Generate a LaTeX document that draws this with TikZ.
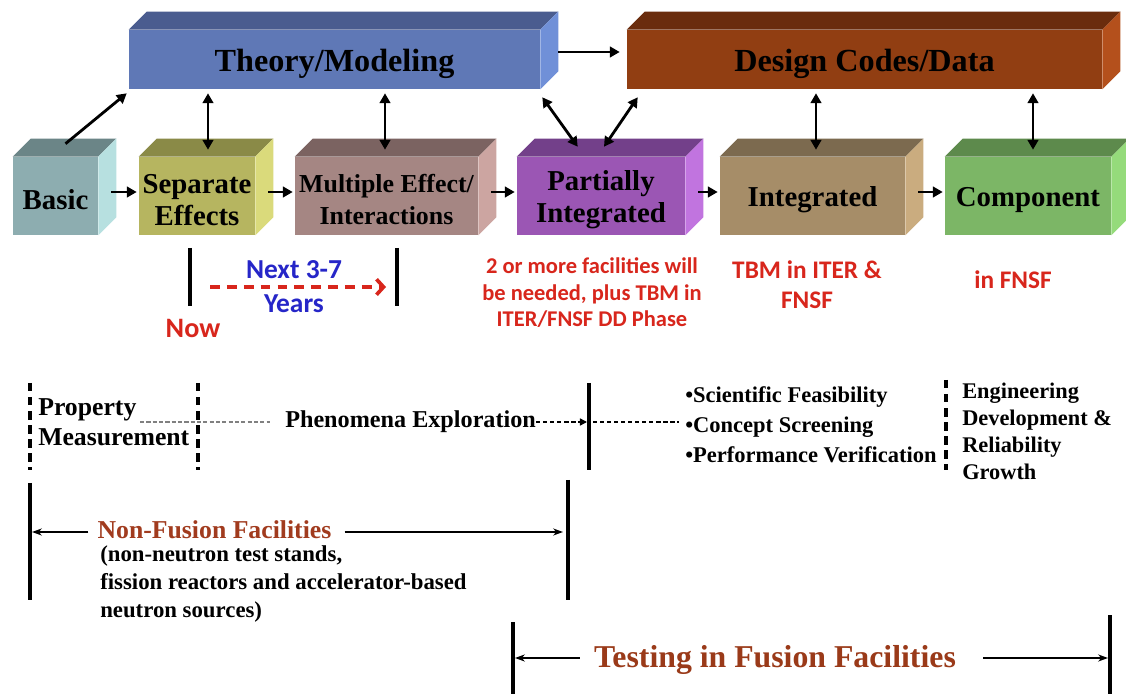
\documentclass[tikz,border=0pt]{standalone}
\usepackage{fontspec}
\setmainfont{Liberation Serif}
\newfontfamily\calibri{Carlito}
\usetikzlibrary{arrows.meta}

\definecolor{theoryF}{HTML}{5F78B6}
\definecolor{theoryT}{HTML}{4A5C8F}
\definecolor{theoryS}{HTML}{7090D8}
\definecolor{designF}{HTML}{913E12}
\definecolor{designT}{HTML}{6A2C0D}
\definecolor{designS}{HTML}{B4501C}
\definecolor{basicF}{HTML}{8DADB0}
\definecolor{basicT}{HTML}{6B8587}
\definecolor{basicS}{HTML}{B7E0E0}
\definecolor{sepF}{HTML}{B6B560}
\definecolor{sepT}{HTML}{8A8A47}
\definecolor{sepS}{HTML}{DADA7B}
\definecolor{multiF}{HTML}{A58683}
\definecolor{multiT}{HTML}{7B6361}
\definecolor{multiS}{HTML}{CCA5A1}
\definecolor{partF}{HTML}{9B56B4}
\definecolor{partT}{HTML}{73408A}
\definecolor{partS}{HTML}{C174DF}
\definecolor{integF}{HTML}{A68D68}
\definecolor{integT}{HTML}{7C6A4F}
\definecolor{integS}{HTML}{CAAC7F}
\definecolor{compF}{HTML}{7CB666}
\definecolor{compT}{HTML}{5D8A4C}
\definecolor{compS}{HTML}{95DB7B}
\definecolor{noteRed}{HTML}{D8261C}
\definecolor{yearBlue}{HTML}{2626C8}
\definecolor{nfBrown}{HTML}{A13B1E}
\definecolor{tfBrown}{HTML}{9A3A19}

\newcommand{\fsz}[2]{\fontsize{#1pt}{#2pt}\selectfont\bfseries}
\newcommand{\lift}[1]{\rule{0pt}{#1em}}
\newcommand{\slab}[3]{%
	\fill [fill=#2] (#1.north west) -- ([shift={(\dep,-\dep)}]#1.north west) -- ([shift={(\dep,-\dep)}]#1.north east) -- (#1.north east) -- cycle;
	\fill [fill=#3] (#1.north east) -- ([shift={(\dep,-\dep)}]#1.north east) -- ([shift={(\dep,-\dep)}]#1.south east) -- (#1.south east) -- cycle;%
}

\begin{document}
\begin{tikzpicture}[x=0.025cm, y=-0.025cm,
		box/.style n args={3}{fill=#1, minimum width=#2*0.025cm, minimum height=#3*0.025cm, inner sep=0pt, align=center},
		big/.style={font=\fsz{22.9}{25}},
		row/.style={font=\fsz{20.5}{22.7}},
		link/.style={line width=2pt, -{Triangle[length=7pt, width=7.5pt]}},
		both/.style={line width=2pt, {Triangle[length=7pt, width=7.5pt]}-{Triangle[length=7pt, width=7.5pt]}},
		bar/.style={line width=2.2pt},
		dbar/.style={line width=3pt, dash pattern=on 6pt off 4pt},
		note/.style={text=noteRed, align=center},
		future/.style={noteRed, line width=2.6pt, dash pattern=on 7pt off 5pt, -{Straight Barb[length=5pt, width=11pt]}},
		span/.style={line width=1.2pt, -{Stealth[length=7pt, width=5pt]}},
		plain/.style={inner sep=0pt, align=left}]

		\useasboundingbox (0,0) rectangle (1126,694);
		\fill [white] (0,0) rectangle (1126,694);
		\def\dep{18}

		\node [box={theoryF}{411}{59}, big] (theory) at (334.5,59.5) {\lift{0.99}Theory/Modeling};
		\node [box={designF}{475}{59}, big] (design) at (864.5,59.5) {\lift{0.99}Design Codes/Data};

		\node [box={basicF}{85}{78}, row] (basic) at (55.5,196) {\lift{0.92}Basic};
		\node [box={sepF}{116}{78}, row] (sep) at (197,196) {\lift{0.92}Separate\\Effects};
		\node [box={multiF}{183}{78}, font=\fsz{18.4}{22.7}] (multi) at (386.5,196) {\lift{0.96}Multiple Effect/\\Interactions};
		\node [box={partF}{168}{78}, row] (partial) at (601,196) {\lift{0.95}Partially\\Integrated};
		\node [box={integF}{185}{78}, row] (integ) at (812.5,196) {\lift{0.92}Integrated};
		\node [box={compF}{166}{78}, row] (comp) at (1028,196) {\lift{0.92}Component};

		\foreach \n/\t/\s in {theory/theoryT/theoryS, design/designT/designS, basic/basicT/basicS, sep/sepT/sepS, multi/multiT/multiS, partial/partT/partS, integ/integT/integS, comp/compT/compS}
			{\slab{\n}{\t}{\s}}

		\foreach \a/\b in {basic/sep, sep/multi, multi/partial, partial/integ, integ/comp}
			\draw [link] ([shift={(13,-4)}]\a.east) -- ([shift={(-2,-4)}]\b.west);

		\draw [link] ([shift={(10,-13)}]basic.north) -- ([shift={(-2,4)}]theory.south west);
		\draw [link] ([shift={(18,-7.5)}]theory.east) -- ([shift={(-7,-7.5)}]design.west);
		\draw [both] ([shift={(11,4)}]sep.north |- theory.south) -- ([shift={(11,-7)}]sep.north);
		\draw [both] ([shift={(-1.5,4)}]multi.north |- theory.south) -- ([shift={(-1.5,-7)}]multi.north);
		\draw [both] ([shift={(2,8)}]theory.south east) -- ([shift={(61,-10)}]partial.north west);
		\draw [both] ([shift={(3,-10)}]partial.north) -- ([shift={(11,8)}]design.south west);
		\draw [both] ([shift={(3.5,4)}]integ.north |- design.south) -- ([shift={(3.5,-7)}]integ.north);
		\draw [both] ([shift={(5,4)}]comp.north |- design.south) -- ([shift={(5,-7)}]comp.north);

		\draw [bar] (190,248) -- (190,306);
		\draw [bar] (397,248) -- (397,306);
		\coordinate (nowmark) at (190,287);
		\coordinate (yearmark) at (397,287);
		\draw [future] ([shift={(20,0)}]nowmark) -- ([shift={(-11,0)}]yearmark);
		\node [note, font=\calibri\fsz{20}{22}] (now) at (193,328) {Now};
		\node [font=\calibri\fsz{19.5}{22}, text=yearBlue] (next) at (294,270) {Next 3-7};
		\node [font=\calibri\fsz{19.5}{22}, text=yearBlue] (years) at (294,304) {Years};
		\node [note, font=\calibri\fsz{16}{18.8}] (facil) at (592,293) {2 or more facilities will\\be needed, plus TBM in\\ITER/FNSF DD Phase};
		\node [note, font=\calibri\fsz{18}{21.3}] (tbm) at (807,285) {TBM in ITER \&\\FNSF};
		\node [note, font=\calibri\fsz{18}{21.3}] (fnsf) at (1013,280) {in FNSF};

		\draw [dbar] (30,383) -- (30,470);
		\draw [dbar] (198,383) -- (198,470);
		\draw [dbar] (946,380) -- (946,470);
		\draw [bar] (589,383) -- (589,470);
		\coordinate (gate) at (589,422);
		\node [plain, anchor=west, font=\fsz{18.3}{21.3}] (prop) at (38,422) {Property\\Measurement};
		\node [plain, anchor=west, font=\fsz{17.2}{20}] (phen) at (285,422) {Phenomena Exploration};
		\node [plain, anchor=west, font=\fsz{16}{21.3}] (goals) at (685,425) {\textbullet Scientific Feasibility\\\textbullet Concept Screening\\\textbullet Performance Verification};
		\node [plain, anchor=north west, font=\fsz{15.9}{19.1}] (engr) at (962,383) {Engineering\\Development \&\\Reliability\\Growth};
		\draw [gray, line width=0.8pt, dash pattern=on 3pt off 1.5pt] ([shift={(102,0)}]prop.west) -- ([shift={(-15,0)}]phen.west);
		\draw [line width=1pt, dash pattern=on 3pt off 2pt, -{Triangle[length=5pt, width=5pt]}] (phen.east) -- ([shift={(-2,0)}]gate);
		\draw [line width=1pt, dash pattern=on 3pt off 2pt] ([shift={(4,0)}]gate) -- ([shift={(-6,-3)}]goals.west);

		\draw [bar] (30,483) -- (30,600);
		\draw [bar] (568,480) -- (568,600);
		\coordinate (nfleft) at (30,532);
		\coordinate (nfright) at (568,532);
		\node [inner sep=0pt, font=\fsz{18.3}{21}, text=nfBrown] (nonfus) at (214.5,530) {Non-Fusion Facilities};
		\draw [span] ([shift={(-9,2)}]nonfus.west) -- ([shift={(2,0)}]nfleft);
		\draw [span] ([shift={(13,2)}]nonfus.east) -- ([shift={(-5,0)}]nfright);
		\node [plain, anchor=west, font=\fsz{16.2}{19.8}] (kinds) at (100,584) {(non-neutron test stands,\\fission reactors and accelerator-based\\neutron sources)};

		\draw [bar] (513,622) -- (513,694);
		\draw [bar] (1110,615) -- (1110,694);
		\coordinate (tfleft) at (513,658);
		\coordinate (tfright) at (1110,658);
		\node [inner sep=0pt, font=\fsz{22.6}{25}, text=tfBrown] (testing) at (775,660) {Testing in Fusion Facilities};
		\draw [span] ([shift={(-14,-2)}]testing.west) -- ([shift={(2,0)}]tfleft);
		\draw [span] ([shift={(27,-2)}]testing.east) -- ([shift={(-2,0)}]tfright);
	\end{tikzpicture}
\end{document}
